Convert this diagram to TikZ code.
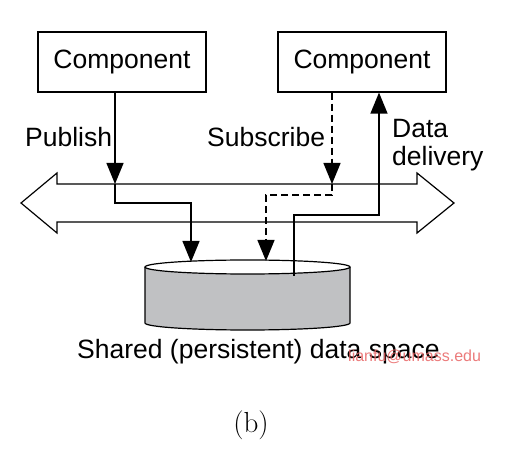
\documentclass[tikz,border=0pt]{standalone}
\usepackage{fontspec}
\newfontfamily\arial{Liberation Sans}
\usetikzlibrary{arrows.meta}
\definecolor{dbgray}{RGB}{192,193,195}
\definecolor{wmred}{RGB}{232,100,100}
\begin{document}
\begin{tikzpicture}[x=1pt,y=-1pt,
  comp/.style={draw, line width=1.2pt, minimum width=168pt, minimum height=60pt,
    font=\arial\fontsize{26.5}{30}\selectfont, inner sep=0pt},
  lbl/.style={font=\arial\fontsize{26.5}{30}\selectfont, inner sep=0pt},
  conn/.style={line width=1.3pt},
  tipend/.style={-{Triangle[length=21pt,width=17pt]}},
  dashedconn/.style={dash pattern=on 7pt off 4pt},
  outline/.style={line width=1.2pt}
]
\useasboundingbox (0,0) rectangle (512,462);

% components
\node[comp] (c1) at (122,62) {Component};
\node[comp] (c2) at (362,62) {Component};

% bus (double arrow)
\draw[outline] (21,203) -- (57,173) -- (57,184) -- (417,184) -- (417,173) -- (454,203)
  -- (417,233) -- (417,222) -- (57,222) -- (57,233) -- cycle;

% data space cylinder
\fill[dbgray] (145,267) -- (145,323) arc[start angle=180, end angle=360, x radius=102.5pt, y radius=7pt] -- (350,267) -- cycle;
\draw[outline] (145,267) -- (145,323) arc[start angle=180, end angle=360, x radius=102.5pt, y radius=7pt] -- (350,267);
\draw[outline, fill=white] (247.5,267) ellipse [x radius=102.5pt, y radius=7pt];

% coordinates
\coordinate (p1) at (115,184);
\coordinate (p2) at (115,203);
\coordinate (db1) at (191,262);
\coordinate (s1) at (332,184);
\coordinate (s2) at (332,195);
\coordinate (db2) at (266,261);
\coordinate (d0) at (294,276);
\coordinate (d1) at (379,215);

% publish
\draw[conn,tipend] (c1.south -| p1) -- (p1);
\draw[conn,tipend] (p1) -- (p2) -| (db1);
% subscribe
\draw[conn,dashedconn,tipend] (c2.south -| s1) -- (s1);
\draw[conn,dashedconn,tipend] (s1) -- (s2) -| (db2);
% data delivery
\draw[conn,tipend] (d0) |- (d1) -- (c2.south -| d1);

% labels
\node[lbl, anchor=base west] (pub) at (25,147) {Publish};
\node[lbl, anchor=base west] (sub) at (207,147) {Subscribe};
\node[lbl, anchor=base west] (dd1) at (392,138) {Data};
\node[lbl, anchor=base west] (dd2) at (392,166) {delivery};
\node[lbl, anchor=base west] (dsl) at (77,359) {Shared (persistent) data space};
\node[anchor=base west, inner sep=0pt, text=wmred, opacity=0.85,
  font=\arial\fontsize{16}{18}\selectfont] (wm) at (348,362) {lianfu@umass.edu};
\node[inner sep=0pt, font=\fontsize{29}{32}\selectfont] (cap) at (251,425) {(b)};
\end{tikzpicture}
\end{document}
